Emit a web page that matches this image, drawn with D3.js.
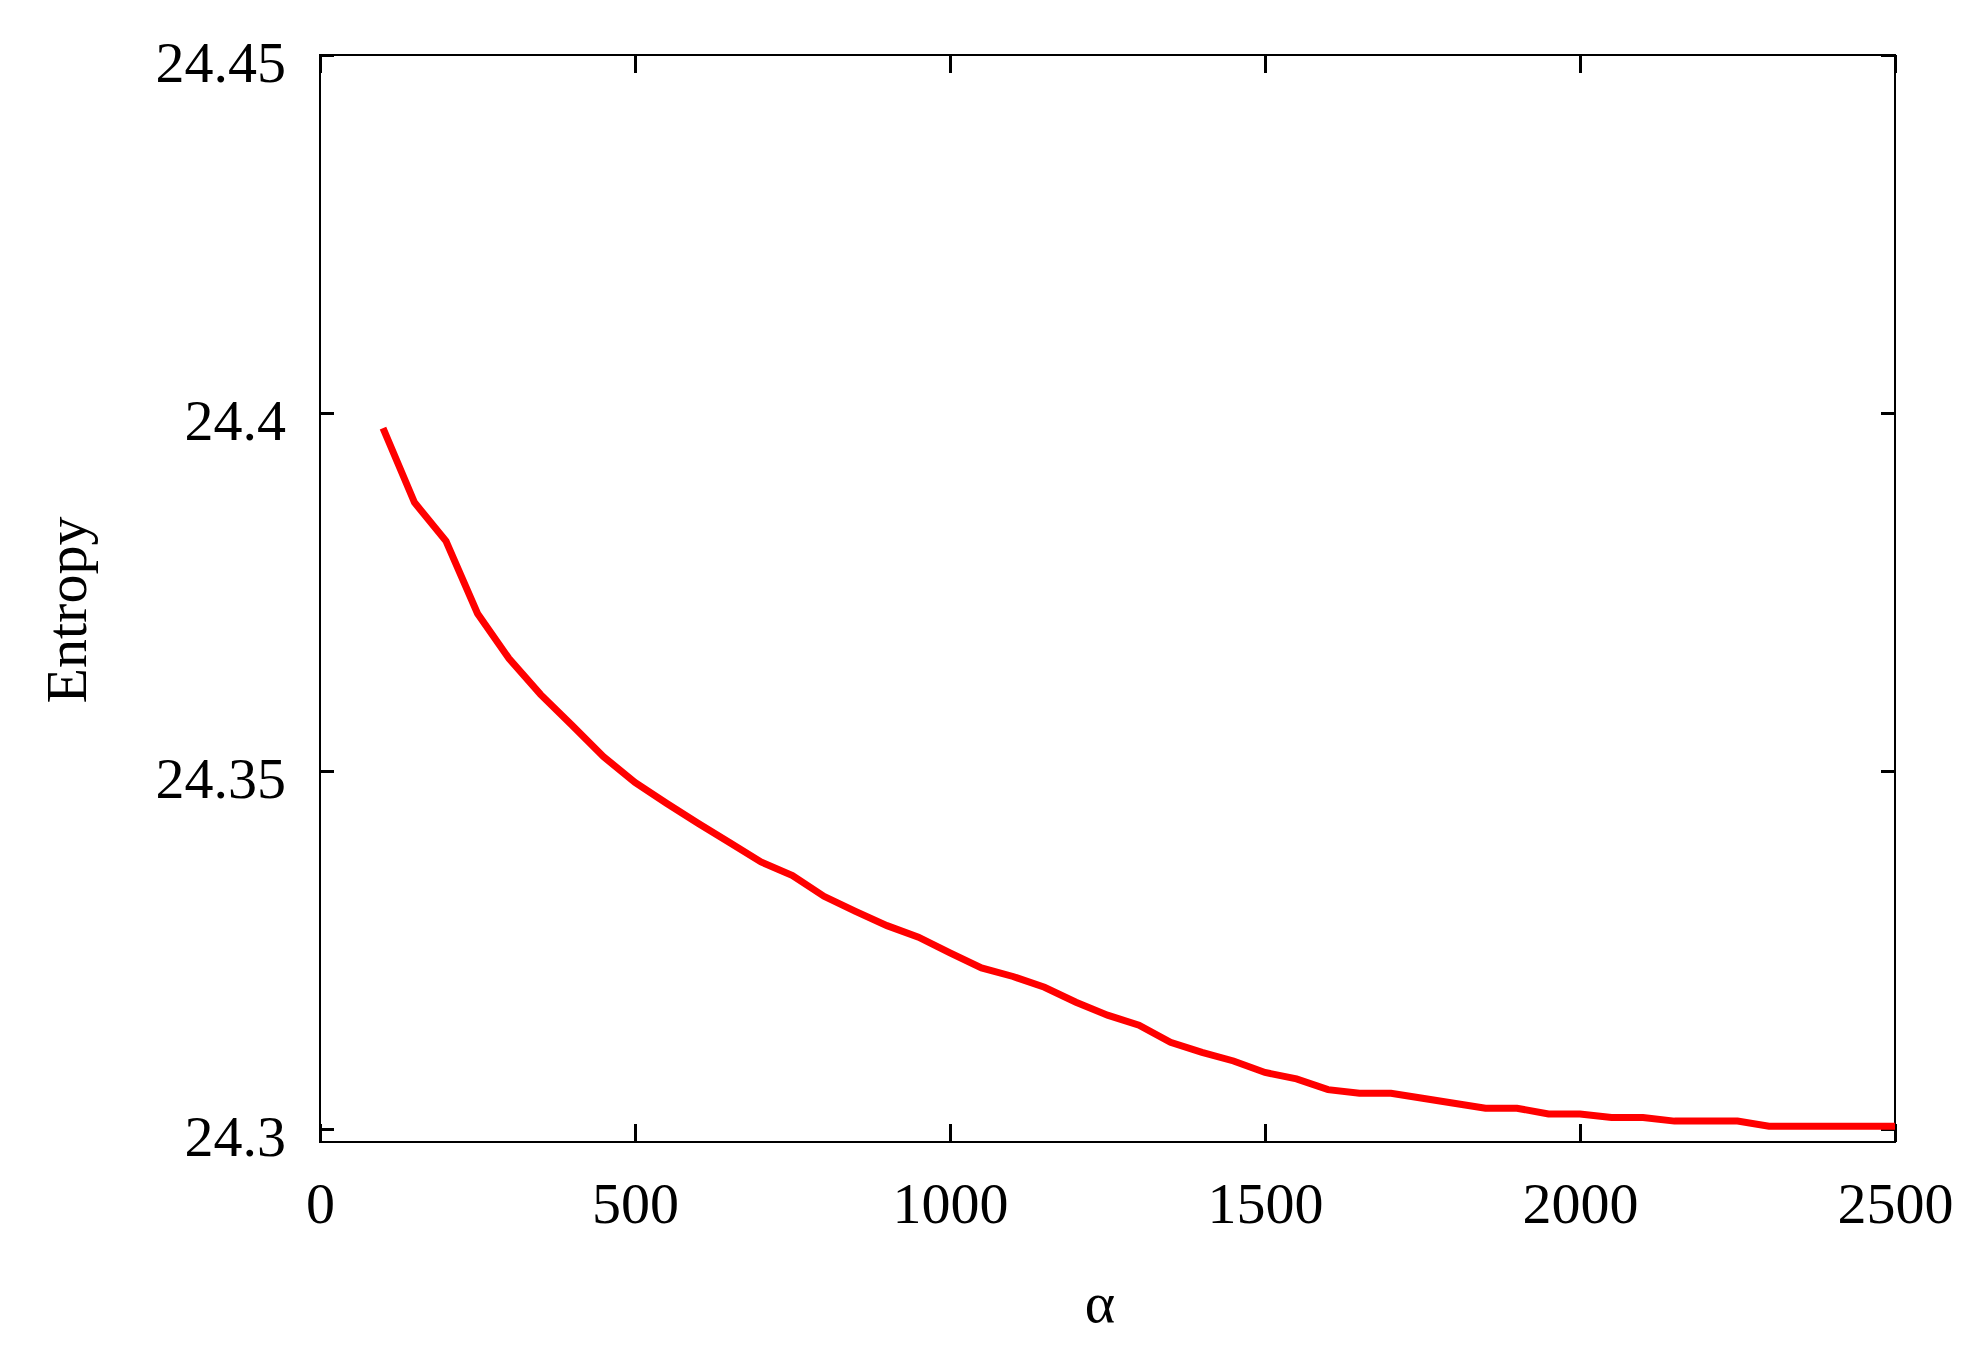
<!DOCTYPE html>
<html><head><meta charset="utf-8">
<script src="https://cdn.jsdelivr.net/npm/d3@7"></script>
<style>body{margin:0;background:#fff}</style></head>
<body><svg id="c" width="1984" height="1356"></svg>
<script>
const alphaVals = [100,150,200,250,300,350,400,450,500,550,600,650,700,750,800,850,900,950,1000,1050,1100,1150,1200,1250,1300,1350,1400,1450,1500,1550,1600,1650,1700,1750,1800,1850,1900,1950,2000,2050,2100,2150,2200,2250,2300,2350,2400,2450,2500];
const entropyVals = [24.3979,24.3875,24.3821,24.3720,24.3657,24.3607,24.3564,24.3520,24.3484,24.3455,24.3427,24.3400,24.3373,24.3354,24.3325,24.3304,24.3284,24.3268,24.3246,24.3225,24.3213,24.3198,24.3177,24.3159,24.3145,24.3121,24.3107,24.3095,24.3079,24.3070,24.3055,24.3050,24.3050,24.3043,24.3036,24.3029,24.3029,24.3021,24.3021,24.3016,24.3016,24.3011,24.3011,24.3011,24.3004,24.3004,24.3004,24.3004,24.3004];
const xTicks = [0,500,1000,1500,2000,2500];
const yTicks = [24.3,24.35,24.4,24.45];
const yTickLabels = ["24.3","24.35","24.4","24.45"];

const svg = d3.select("#c");
const L=320, R=1895, T=55, B=1142;
const x = d3.scaleLinear().domain([0,2500]).range([L,R]);
const y = d3.scaleLinear().domain([24.3,24.45]).range([1129,55]);
const font = "'Liberation Serif', 'DejaVu Serif', serif";

svg.append("rect").attr("x",L).attr("y",T).attr("width",R-L).attr("height",B-T)
  .attr("fill","none").attr("stroke","#000").attr("stroke-width",2);

// x ticks bottom & top (inward)
const gxb = svg.append("g").attr("transform",`translate(0,${B})`)
  .call(d3.axisBottom(x).tickValues(xTicks).tickSizeInner(-18).tickSizeOuter(0).tickPadding(40).tickFormat(d3.format("d")));
gxb.select(".domain").remove();
gxb.selectAll("line").attr("stroke-width",3);
gxb.selectAll("text").attr("font-family",font).attr("font-size",58).attr("fill","#000");
const gxt = svg.append("g").attr("transform",`translate(0,${T})`)
  .call(d3.axisTop(x).tickValues(xTicks).tickSizeInner(-18).tickSizeOuter(0).tickFormat(""));
gxt.select(".domain").remove(); gxt.selectAll("line").attr("stroke-width",3);

// y ticks left & right
const gyl = svg.append("g").attr("transform",`translate(${L},0)`)
  .call(d3.axisLeft(y).tickValues(yTicks).tickSizeInner(-14).tickSizeOuter(0).tickPadding(34).tickFormat((d,i)=>yTickLabels[i]));
gyl.select(".domain").remove(); gyl.selectAll("line").attr("stroke-width",3);
gyl.selectAll("text").attr("font-family",font).attr("font-size",58).attr("fill","#000").attr("dy","0.45em");
const gyr = svg.append("g").attr("transform",`translate(${R},0)`)
  .call(d3.axisRight(y).tickValues(yTicks).tickSizeInner(-14).tickSizeOuter(0).tickFormat(""));
gyr.select(".domain").remove(); gyr.selectAll("line").attr("stroke-width",3);

svg.append("path").datum(alphaVals.map((a,i)=>[a,entropyVals[i]]))
  .attr("d", d3.line().x(d=>x(d[0])).y(d=>y(d[1])))
  .attr("fill","none").attr("stroke","#ff0000").attr("stroke-width",7);

svg.append("text").attr("x",1100).attr("y",1322).attr("text-anchor","middle")
  .attr("font-family",font).attr("font-size",58).text("α");
svg.append("text").attr("transform","translate(86,610) rotate(-90)").attr("text-anchor","middle")
  .attr("font-family",font).attr("font-size",58).text("Entropy");
</script></body></html>
